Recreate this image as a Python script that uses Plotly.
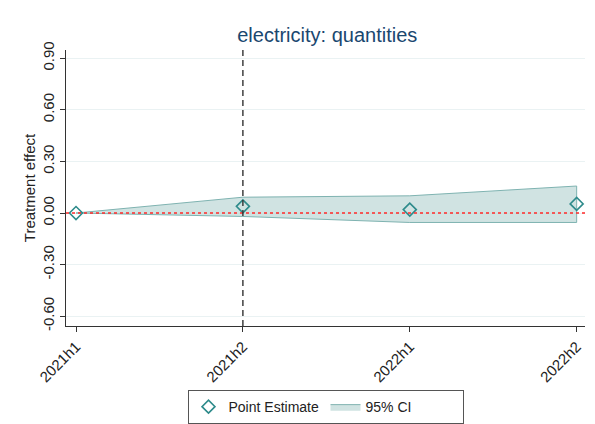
import plotly.graph_objects as go

# Event-study estimates for electricity quantities
periods = ["2021h1", "2021h2", "2022h1", "2022h2"]
point_estimate = [0.0, 0.039, 0.020, 0.053]
ci_upper = [0.0, 0.092, 0.100, 0.157]
ci_lower = [0.0, -0.020, -0.055, -0.055]
y_ticks = [-0.60, -0.30, 0.00, 0.30, 0.60, 0.90]
treatment_period = "2021h2"

x_pos = list(range(1, len(periods) + 1))
treat_x = x_pos[periods.index(treatment_period)]

teal = "#2e8b8b"
fill_col = "rgba(190,216,215,0.72)"
font_family = "Liberation Sans, Arial, sans-serif"

fig = go.Figure()

# 95% confidence band
fig.add_trace(go.Scatter(
    x=x_pos + x_pos[::-1],
    y=ci_upper + ci_lower[::-1],
    fill="toself",
    fillcolor=fill_col,
    line=dict(color="#7fb3b1", width=1),
    mode="lines",
    name="95% CI",
    hoverinfo="skip",
))

# Point estimates
fig.add_trace(go.Scatter(
    x=x_pos,
    y=point_estimate,
    mode="markers",
    marker=dict(symbol="diamond-open", size=10, color=teal, line=dict(width=1.6, color=teal)),
    name="Point Estimate",
))

# Zero reference line
fig.add_shape(type="line", xref="paper", x0=0, x1=1, yref="y", y0=0, y1=0,
              line=dict(color="#ff2a2a", width=1.3, dash="3px,3px"), layer="above")
# Treatment onset
fig.add_shape(type="line", xref="x", x0=treat_x, x1=treat_x, yref="paper", y0=0, y1=1,
              line=dict(color="#333333", width=1.4, dash="6px,4px"), layer="above")

fig.update_layout(
    width=595, height=424,
    margin=dict(l=66, r=10, t=50, b=98, autoexpand=False),
    paper_bgcolor="white",
    plot_bgcolor="white",
    font=dict(family=font_family, size=14, color="#222222"),
    title=dict(text="electricity: quantities", x=0.55, xanchor="center", y=0.917, yanchor="middle",
               font=dict(size=20, color="#1a476f", family=font_family)),
    showlegend=True,
    legend=dict(
        orientation="h", x=0.5, xanchor="center", y=-0.232, yanchor="top",
        bordercolor="#555555", borderwidth=1, bgcolor="white",
        font=dict(size=14, color="#222222"),
        traceorder="reversed",
        itemwidth=30,
        entrywidth=92,
        tracegroupgap=0,
    ),
    xaxis=dict(
        range=[0.94, 4.05],
        tickmode="array", tickvals=x_pos, ticktext=periods,
        tickangle=-45, ticks="outside", ticklen=5, tickcolor="#333333",
        showline=True, linecolor="#333333", linewidth=1,
        showgrid=False, zeroline=False, automargin=False,
        tickfont=dict(size=15),
    ),
    yaxis=dict(
        range=[-0.657, 0.948],
        tickmode="array", tickvals=y_ticks,
        ticktext=[f"{v:.2f}" for v in y_ticks],
        tickangle=-90, ticks="outside", ticklen=5, tickcolor="#333333",
        showline=True, linecolor="#333333", linewidth=1,
        showgrid=True, gridcolor="#eaf2f3", gridwidth=1,
        zeroline=False, automargin=False,
        title=dict(text="Treatment effect", font=dict(size=15), standoff=0),
        tickfont=dict(size=15),
    ),
)

fig.write_html("out.html")
